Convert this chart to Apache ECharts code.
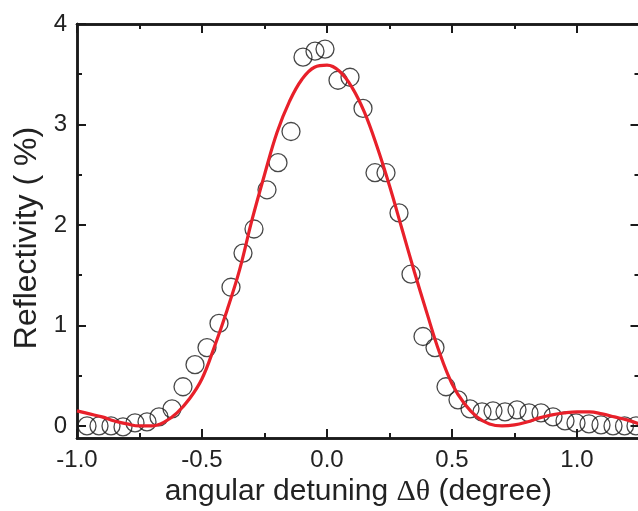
<!DOCTYPE html>
<html>
<head>
<meta charset="utf-8">
<style>
  html, body { margin: 0; padding: 0; background: #fff; overflow: hidden; }
  #chart { width: 642px; height: 511px; }
</style>
</head>
<body>
<div id="chart"></div>
<script src="https://cdn.jsdelivr.net/npm/echarts@6/dist/echarts.min.js"></script>
<script>
    // measured points (circles)
    var expX = [-0.96, -0.912, -0.864, -0.816, -0.768, -0.72, -0.672, -0.62, -0.576, -0.528,
        -0.48, -0.432, -0.384, -0.336, -0.292, -0.24, -0.196, -0.144, -0.096, -0.048,
        -0.008, 0.044, 0.092, 0.144, 0.192, 0.236, 0.288, 0.336, 0.384, 0.432,
        0.476, 0.524, 0.572, 0.62, 0.664, 0.712, 0.76, 0.808, 0.856, 0.904,
        0.952, 0.996, 1.048, 1.096, 1.144, 1.19, 1.236];
    var expY = [0.0, 0.0, 0.0, -0.01, 0.03, 0.04, 0.09, 0.17, 0.39, 0.61,
        0.78, 1.02, 1.38, 1.72, 1.96, 2.35, 2.62, 2.93, 3.67, 3.73,
        3.75, 3.44, 3.47, 3.16, 2.52, 2.52, 2.12, 1.51, 0.89, 0.78,
        0.39, 0.26, 0.17, 0.14, 0.15, 0.14, 0.16, 0.13, 0.13, 0.09,
        0.05, 0.03, 0.02, 0.01, 0.0, 0.0, 0.0];

    // fitted curve (red)
    var fitX = [-1.0, -0.95, -0.9, -0.85, -0.8, -0.75, -0.7, -0.65, -0.6, -0.55,
        -0.5, -0.45, -0.4, -0.35, -0.3, -0.25, -0.2, -0.15, -0.1, -0.05,
        0.0, 0.05, 0.1, 0.15, 0.2, 0.25, 0.3, 0.35, 0.4, 0.45,
        0.5, 0.55, 0.6, 0.65, 0.7, 0.75, 0.8, 0.85, 0.9, 0.95,
        1.0, 1.05, 1.1, 1.15, 1.2, 1.25];
    var fitY = [0.15, 0.12, 0.09, 0.05, 0.02, 0.0, 0.0, 0.04, 0.13, 0.27,
        0.47, 0.79, 1.15, 1.55, 2.05, 2.50, 2.92, 3.23, 3.45, 3.57,
        3.59, 3.53, 3.37, 3.12, 2.78, 2.39, 1.96, 1.53, 1.12, 0.73,
        0.42, 0.22, 0.09, 0.02, 0.0, 0.01, 0.04, 0.08, 0.11, 0.13,
        0.14, 0.14, 0.12, 0.09, 0.06, 0.02];

    // ticks
    var xTicks = [-1.0, -0.5, 0.0, 0.5, 1.0];
    var xMinorTicks = [-0.75, -0.25, 0.25, 0.75];
    var yTicks = [0, 1, 2, 3, 4];
    var yMinorTicks = [0.5, 1.5, 2.5, 3.5];

    var xMin = -1.0, xMax = 1.25, yMin = -0.12, yMax = 4;

    var chart = echarts.init(document.getElementById('chart'));

    var font = 'Liberation Sans, Arial, Helvetica, sans-serif';
    var axisLine = {show: true, onZero: false, lineStyle: {color: '#1a1a1a', width: 2.5}};

    function xAx(pos, ticks, len, labels) {
        return {
            type: 'value', position: pos, min: xMin, max: xMax,
            axisLine: axisLine,
            splitLine: {show: false},
            axisTick: {show: true, inside: true, length: len, customValues: ticks,
                lineStyle: {color: '#1a1a1a', width: 2}},
            axisLabel: labels ? {
                show: true, customValues: ticks, margin: 10,
                fontSize: 24, fontFamily: font, color: '#222',
                formatter: function (v) { return v.toFixed(1); }
            } : {show: false}
        };
    }
    function yAx(pos, ticks, len, labels) {
        return {
            type: 'value', position: pos, min: yMin, max: yMax,
            axisLine: axisLine,
            splitLine: {show: false},
            axisTick: {show: true, inside: true, length: len, customValues: ticks,
                lineStyle: {color: '#1a1a1a', width: 2}},
            axisLabel: labels ? {
                show: true, customValues: ticks, margin: 10,
                fontSize: 24, fontFamily: font, color: '#222'
            } : {show: false}
        };
    }

    var xAxes = [
        xAx('bottom', xTicks, 9, true),
        xAx('bottom', xMinorTicks, 5, false),
        xAx('top', xTicks, 9, false),
        xAx('top', xMinorTicks, 5, false)
    ];
    xAxes[0].name = '{a|angular detuning }{b|Δθ}{a| (degree)}';
    xAxes[0].nameLocation = 'middle';
    xAxes[0].nameGap = 37;
    xAxes[0].nameTextStyle = {
        rich: {
            a: {fontSize: 30, fontFamily: font, color: '#222'},
            b: {fontSize: 30, fontFamily: 'Liberation Serif, DejaVu Serif, serif', color: '#222'}
        }
    };

    var yAxes = [
        yAx('left', yTicks, 9, true),
        yAx('left', yMinorTicks, 5, false),
        yAx('right', yTicks, 9, false),
        yAx('right', yMinorTicks, 5, false)
    ];
    yAxes[0].name = 'Reflectivity ( %)';
    yAxes[0].nameLocation = 'middle';
    yAxes[0].nameGap = 34;
    yAxes[0].nameTextStyle = {fontSize: 32, fontFamily: font, color: '#222', padding: [0, 14, 0, 0]};

    var pts = expX.map(function (x, i) { return [x, expY[i]]; });
    var fit = fitX.map(function (x, i) { return [x, fitY[i]]; });

    chart.setOption({
        animation: false,
        backgroundColor: '#fff',
        grid: {left: 77, top: 24, right: 2.5, bottom: 73, containLabel: false, outerBoundsMode: 'none'},
        xAxis: xAxes,
        yAxis: yAxes,
        series: [
            {
                type: 'scatter', data: pts, symbol: 'circle', symbolSize: 18, clip: false,
                itemStyle: {color: 'rgba(255,255,255,0)', borderColor: '#1a1a1a', borderWidth: 1.3},
                z: 2
            },
            {
                type: 'line', data: fit, smooth: 0.4, symbol: 'none',
                lineStyle: {color: '#e8202a', width: 3.2},
                z: 3
            }
        ]
    });
</script>
</body>
</html>
